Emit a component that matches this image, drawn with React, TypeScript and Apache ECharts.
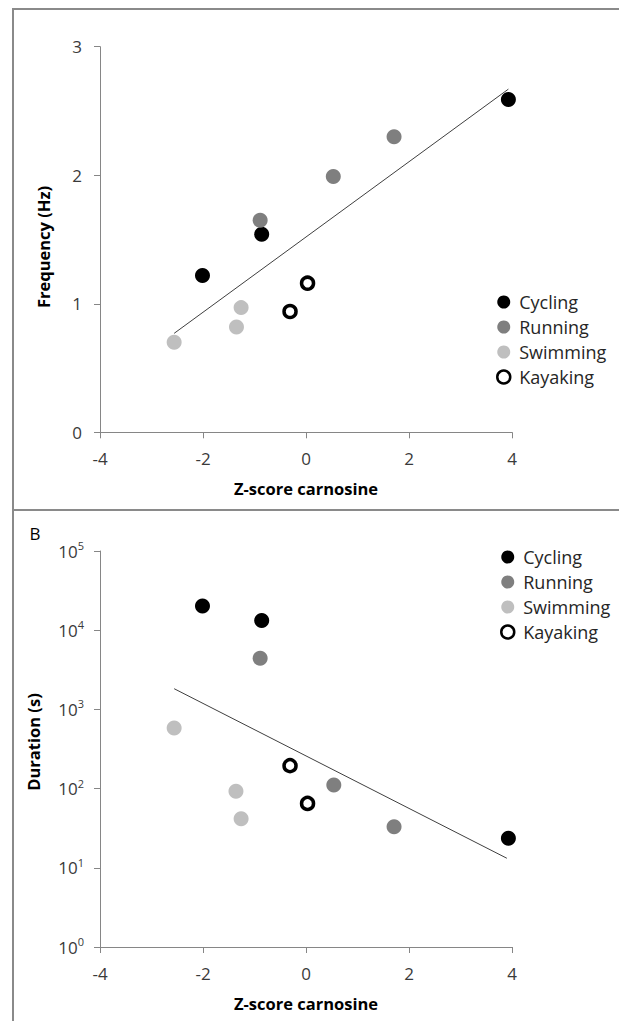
import React, { useEffect, useRef } from "react";
import * as echarts from "echarts";

// Panel A: stimulation frequency vs carnosine z-score
const cyclingFreq: number[][] = [[-2.01, 1.22], [-0.86, 1.54], [3.93, 2.59]];
const runningFreq: number[][] = [[-0.89, 1.65], [0.53, 1.99], [1.71, 2.30]];
const swimmingFreq: number[][] = [[-2.56, 0.70], [-1.35, 0.82], [-1.26, 0.97]];
const kayakingFreq: number[][] = [[-0.31, 0.94], [0.03, 1.16]];
const trendFreq: number[][] = [[-2.56, 0.77], [3.93, 2.67]];

// Panel B: event duration (s, log scale) vs carnosine z-score
const cyclingDur: number[][] = [[-2.01, 20200], [-0.86, 13300], [3.93, 23.6]];
const runningDur: number[][] = [[-0.89, 4420], [0.54, 111], [1.71, 33]];
const swimmingDur: number[][] = [[-2.56, 582], [-1.36, 92.5], [-1.26, 41.7]];
const kayakingDur: number[][] = [[-0.31, 195], [0.03, 65]];
const trendDur: number[][] = [[-2.56, 1825], [3.9, 13.2]];

const sports = ["Cycling", "Running", "Swimming", "Kayaking"];
const xTitle = "Z-score carnosine";
const yTitleA = "Frequency (Hz)";
const yTitleB = "Duration (s)";
const panelLabelB = "B";

const FONT = "'Open Sans', 'Noto Sans', sans-serif";
const AXIS_GREY = "#868686";
const TEXT_GREY = "#3a3a3a";
const TITLE_SIZE = 16.5;

const colours: Record<string, string> = {
  Cycling: "#000000",
  Running: "#7f7f7f",
  Swimming: "#bfbfbf",
  Kayaking: "#ffffff",
};

function scatter(name: string, data: number[][], idx: number) {
  const open = name === "Kayaking";
  return {
    type: "scatter",
    name,
    data,
    xAxisIndex: idx,
    yAxisIndex: idx,
    symbol: "circle",
    symbolSize: open ? 12 : 15,
    itemStyle: open
      ? { color: "#ffffff", borderColor: "#000000", borderWidth: 3.5, opacity: 1 }
      : { color: colours[name], borderWidth: 0, opacity: 1 },
    emphasis: { disabled: true },
    z: 3,
  };
}

function trend(data: number[][], idx: number) {
  return {
    type: "line",
    name: "trend",
    data,
    xAxisIndex: idx,
    yAxisIndex: idx,
    symbol: "none",
    lineStyle: { color: "#3f3f3f", width: 1 },
    emphasis: { disabled: true },
    z: 2,
  };
}

function xAxis(gridIndex: number) {
  return {
    type: "value",
    gridIndex,
    min: -4,
    max: 4,
    interval: 2,
    name: xTitle,
    nameLocation: "middle",
    nameGap: 48,
    nameTextStyle: { fontFamily: FONT, fontSize: TITLE_SIZE, fontWeight: "bold", color: "#000" },
    axisLine: { show: true, onZero: false, lineStyle: { color: AXIS_GREY, width: 1 } },
    axisTick: { show: true, inside: false, length: 6, lineStyle: { color: AXIS_GREY } },
    axisLabel: { fontFamily: FONT, fontSize: 17, color: TEXT_GREY, margin: 18 },
    splitLine: { show: false },
  };
}

function legend(top: number, left: number) {
  return {
    show: true,
    orient: "vertical",
    left,
    top,
    itemWidth: 13,
    itemHeight: 13,
    itemGap: 5,
    icon: "circle",
    selectedMode: false,
    data: sports.map((s) =>
      s === "Kayaking"
        ? { name: s, itemStyle: { color: "#fff", borderColor: "#000", borderWidth: 2.5 } }
        : { name: s, itemStyle: { color: colours[s], borderWidth: 0 } }
    ),
    textStyle: { fontFamily: FONT, fontSize: 18, color: "#262626", padding: [0, 0, 0, 4], lineHeight: 20 },
  };
}

export default function App() {
  const ref = useRef<HTMLDivElement>(null);

  useEffect(() => {
    if (!ref.current) return;
    const chart = echarts.init(ref.current, null, { renderer: "svg" });

    const frame = { stroke: "#8a8a8a", lineWidth: 2 };

    chart.setOption({
      animation: false,
      backgroundColor: "#ffffff",
      textStyle: { fontFamily: FONT },
      grid: [
        { left: 100, top: 46.7, width: 412, height: 385.6, outerBoundsMode: "none" },
        { left: 100, top: 551, width: 412, height: 396, outerBoundsMode: "none" },
      ],
      xAxis: [xAxis(0), xAxis(1)],
      yAxis: [
        {
          type: "value",
          gridIndex: 0,
          min: 0,
          max: 3,
          interval: 1,
          name: yTitleA,
          nameLocation: "middle",
          nameGap: 48,
          nameRotate: 90,
          nameTextStyle: { fontFamily: FONT, fontSize: TITLE_SIZE, fontWeight: "bold", color: "#000", padding: [0, 15, 0, 0] },
          axisLine: { show: true, onZero: false, lineStyle: { color: AXIS_GREY, width: 1 } },
          axisTick: { show: true, inside: false, length: 6, lineStyle: { color: AXIS_GREY } },
          axisLabel: { fontFamily: FONT, fontSize: 17, color: TEXT_GREY, margin: 18 },
          splitLine: { show: false },
        },
        {
          type: "log",
          logBase: 10,
          gridIndex: 1,
          min: 1,
          max: 100000,
          name: yTitleB,
          nameLocation: "middle",
          nameGap: 58,
          nameRotate: 90,
          nameTextStyle: { fontFamily: FONT, fontSize: TITLE_SIZE, fontWeight: "bold", color: "#000", padding: [0, 0, 0, 14] },
          axisLine: { show: true, onZero: false, lineStyle: { color: AXIS_GREY, width: 1 } },
          axisTick: { show: true, inside: false, length: 6, lineStyle: { color: AXIS_GREY } },
          axisLabel: {
            fontFamily: FONT,
            margin: 16,
            formatter: (v: number) => `{b|10}{s|${Math.round(Math.log10(v))}}`,
            rich: {
              b: { fontFamily: FONT, fontSize: 17, color: TEXT_GREY, lineHeight: 22, verticalAlign: "middle" },
              s: { fontFamily: FONT, fontSize: 11, color: TEXT_GREY, lineHeight: 12, verticalAlign: "top" },
            },
          },
          splitLine: { show: false },
        },
      ],
      legend: [legend(287, 491), legend(542, 495)],
      series: [
        scatter("Cycling", cyclingFreq, 0),
        scatter("Running", runningFreq, 0),
        scatter("Swimming", swimmingFreq, 0),
        scatter("Kayaking", kayakingFreq, 0),
        trend(trendFreq, 0),
        scatter("Cycling", cyclingDur, 1),
        scatter("Running", runningDur, 1),
        scatter("Swimming", swimmingDur, 1),
        scatter("Kayaking", kayakingDur, 1),
        trend(trendDur, 1),
      ],
      graphic: [
        { type: "line", shape: { x1: 13, y1: 9, x2: 619, y2: 9 }, style: frame, silent: true },
        { type: "line", shape: { x1: 13, y1: 8, x2: 13, y2: 1021 }, style: frame, silent: true },
        { type: "line", shape: { x1: 13, y1: 510, x2: 619, y2: 510 }, style: frame, silent: true },
        {
          type: "text",
          x: 35,
          y: 533,
          style: {
            text: panelLabelB,
            fontFamily: FONT,
            fontSize: 17,
            fill: "#000",
            align: "center",
            verticalAlign: "middle",
          },
          silent: true,
        },
      ],
    });

    return () => chart.dispose();
  }, []);

  return (
    <div
      ref={ref}
      style={{ position: "absolute", left: 0, top: 0, width: 619, height: 1021, background: "#fff" }}
    />
  );
}
